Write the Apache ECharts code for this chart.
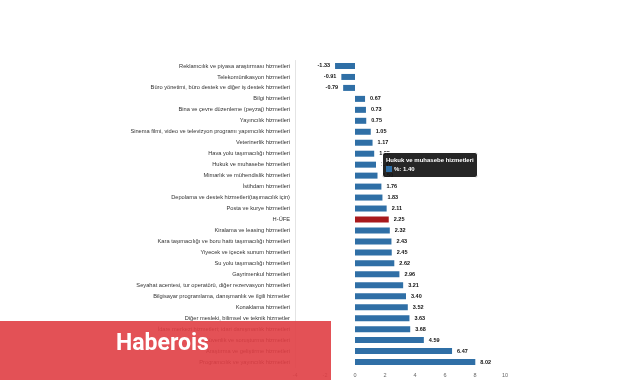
<!DOCTYPE html>
<html><head><meta charset="utf-8">
<script src="https://cdn.jsdelivr.net/npm/echarts@6/dist/echarts.min.js"></script>
<style>html,body{margin:0;padding:0;background:#fff}#c{width:641px;height:380px}</style>
</head><body><div id="c"></div>
<script>
const categories = [
"Reklamcılık ve piyasa araştırması hizmetleri",
"Telekomünikasyon hizmetleri",
"Büro yönetimi, büro destek ve diğer iş destek hizmetleri",
"Bilgi hizmetleri",
"Bina ve çevre düzenleme (peyzaj) hizmetleri",
"Yayıncılık hizmetleri",
"Sinema filmi, video ve televizyon programı yapımcılık hizmetleri",
"Veterinerlik hizmetleri",
"Hava yolu taşımacılığı hizmetleri",
"Hukuk ve muhasebe hizmetleri",
"Mimarlık ve mühendislik hizmetleri",
"İstihdam hizmetleri",
"Depolama ve destek hizmetleri(taşımacılık için)",
"Posta ve kurye hizmetleri",
"H-ÜFE",
"Kiralama ve leasing hizmetleri",
"Kara taşımacılığı ve boru hattı taşımacılığı hizmetleri",
"Yiyecek ve içecek sunum hizmetleri",
"Su yolu taşımacılığı hizmetleri",
"Gayrimenkul hizmetleri",
"Seyahat acentesi, tur operatörü, diğer rezervasyon hizmetleri",
"Bilgisayar programlama, danışmanlık ve ilgili hizmetler",
"Konaklama hizmetleri",
"Diğer mesleki, bilimsel ve teknik hizmetler",
"İdare merkezi hizmetleri; idari danışmanlık hizmetleri",
"Güvenlik ve soruşturma hizmetleri",
"Araştırma ve geliştirme hizmetleri",
"Programcılık ve yayıncılık hizmetleri"
];
const values = [-1.33,-0.91,-0.79,0.67,0.73,0.75,1.05,1.17,1.28,1.40,1.50,1.76,1.83,2.11,2.25,2.32,2.43,2.45,2.62,2.96,3.21,3.40,3.52,3.63,3.68,4.59,6.47,8.02];
const highlight = "H-ÜFE";
const xTicks = [-4,-2,0,2,4,6,8,10];
const seriesName = "%";
const tooltipIndex = 9;

const BLUE = '#2f6fa6', RED = '#a8191c';
const data = values.map((v,i)=>({
  value: v,
  itemStyle: {color: categories[i]===highlight ? RED : BLUE},
  label: {position: v<0 ? 'left' : 'right'}
}));

const chart = echarts.init(document.getElementById('c'), null, {renderer:'canvas'});
chart.setOption({
  animation: false,
  backgroundColor: '#fff',
  textStyle: {fontFamily: 'Liberation Sans, Arial, sans-serif'},
  grid: {left: 295, right: 136, top: 60.5, bottom: 12.5, containLabel: false},
  tooltip: {
    trigger: 'item',
    alwaysShowContent: true,
    position: [382, 152],
    backgroundColor: 'rgba(20,20,20,0.92)',
    borderColor: '#fff',
    borderWidth: 1,
    padding: [3, 3],
    extraCssText: 'border-radius:3px;box-shadow:none;',
    formatter: p => '<div style="font:bold 6px Liberation Sans,Arial,sans-serif;color:#fff;line-height:9px">' + p.name + '</div>' +
      '<div style="font:bold 6px Liberation Sans,Arial,sans-serif;color:#fff;line-height:9px"><span style="display:inline-block;width:6px;height:6px;background:' + BLUE + ';margin-right:2px;vertical-align:-1px"></span>' + p.seriesName + ': ' + p.value.toFixed(2) + '</div>'
  },
  xAxis: {
    type: 'value', min: xTicks[0], max: xTicks[xTicks.length-1], interval: 2,
    axisLine: {show: false}, axisTick: {show: false},
    splitLine: {show: false},
    axisLabel: {color: '#666', fontSize: 5.5, margin: 5}
  },
  yAxis: {
    type: 'category', data: categories, inverse: true,
    axisLine: {show: true, onZero: false, lineStyle: {color: '#e4e4e4', width: 1}},
    axisTick: {show: false},
    axisLabel: {
      color: '#333', fontSize: 5.7, margin: 5, interval: 0,
      formatter: (v) => v
    }
  },
  series: [{
    name: seriesName, type: 'bar', data: data, barWidth: 6,
    label: {show: true, fontSize: 5.5, fontWeight: 'bold', color: '#111', distance: 5,
      formatter: p => p.value.toFixed(2)}
  }],
  graphic: [{
    type: 'group', z: 1000, left: 0, top: 321,
    children: [
      {type: 'rect', shape: {x: 0, y: 0, width: 331, height: 59}, style: {fill: 'rgba(224,62,68,0.9)'}, z: 1000},
      {type: 'text', x: 116, y: 12, style: {text: 'Haberois', fill: '#fff', font: 'bold 23px Roboto, Arial, sans-serif'}, z: 1001}
    ]
  }]
});
chart.dispatchAction({type: 'showTip', seriesIndex: 0, dataIndex: tooltipIndex});
</script></body></html>
